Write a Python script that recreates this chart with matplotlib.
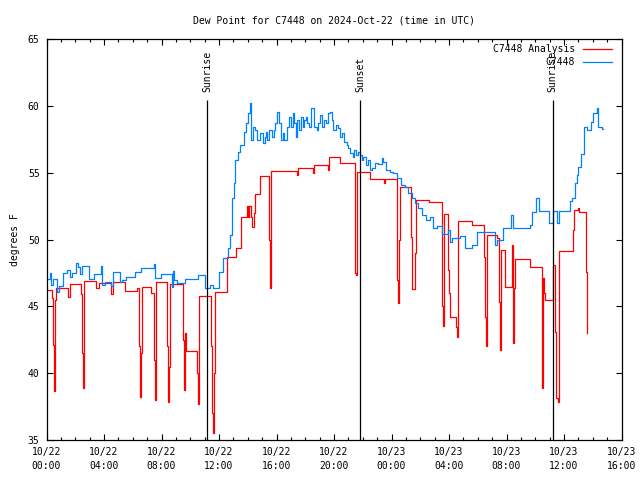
import matplotlib
matplotlib.use('Agg')
import matplotlib.pyplot as plt

# hours after 2024-10-22 00:00 UTC, dew point in F
ana_hours = [0.00, 0.36, 0.45, 0.50, 0.56, 0.62, 0.68, 1.52, 1.64, 2.38, 2.47, 2.52, 2.58, 2.64,
             3.44, 3.67, 4.47, 4.62, 5.46, 6.30, 6.46, 6.52, 6.60, 6.64, 7.27, 7.50, 7.55, 7.62,
             8.38, 8.42, 8.52, 8.58, 9.52, 9.56, 9.62, 9.70, 10.50, 10.54, 10.60, 11.42, 11.50,
             11.56, 11.62, 11.70, 12.58, 13.16, 13.55, 13.95, 14.05, 14.12, 14.22, 14.30, 14.45,
             14.52, 14.85, 15.50, 15.55, 15.62, 17.40, 17.50, 18.56, 18.62, 19.56, 19.64, 20.42,
             21.46, 21.52, 21.60, 22.50, 23.45, 23.52, 24.40, 24.46, 24.55, 24.62, 25.34, 25.40,
             25.62, 25.70, 26.63, 27.49, 27.56, 27.65, 27.95, 28.00, 28.07, 28.49, 28.56, 28.60,
             28.65, 29.58, 30.43, 30.50, 30.55, 30.62, 31.32, 31.45, 31.52, 31.60, 31.88, 32.36,
             32.44, 32.48, 32.54, 32.60, 33.63, 34.45, 34.50, 34.55, 34.62, 34.70, 35.20, 35.26,
             35.37, 35.42, 35.55, 35.62, 35.67, 36.65, 36.72, 36.95, 37.02, 37.53, 37.58, 37.62]
ana_temp = [46.2, 45.6, 42.1, 38.7, 42.5, 45.5, 46.35, 45.7, 46.67, 45.9, 41.5, 38.9, 41.8, 46.88,
            46.35, 46.72, 45.9, 46.85, 46.15, 46.4, 42.0, 38.25, 41.5, 46.47, 46.0, 41.0, 38.0, 46.85,
            42.0, 37.87, 40.5, 46.7, 42.5, 38.75, 43.0, 41.66, 40.0, 37.68, 45.78, 42.0, 37.0,
            35.5, 40.0, 46.05, 48.67, 49.34, 51.66, 52.5, 51.7, 52.5, 51.66, 50.9, 52.0,
            53.4, 54.75, 50.0, 46.35, 55.15, 54.8, 55.38, 55.0, 55.55, 55.2, 56.15, 55.7,
            47.5, 47.35, 55.03, 54.5, 54.2, 54.5, 47.0, 45.28, 50.0, 53.9, 50.2, 46.28,
            49.0, 52.96, 52.78, 45.0, 43.55, 51.9, 47.7, 46.0, 44.23, 43.48, 42.7, 47.1,
            51.4, 51.07, 48.72, 44.23, 42.0, 50.32, 50.1, 45.35, 41.74, 49.2, 46.43, 49.6,
            44.98, 42.24, 46.35, 48.52, 47.92, 43.48, 38.87, 47.1, 46.0, 45.48, 46.73, 48.1,
            43.1, 38.13, 37.87, 43.0, 49.14, 50.7, 52.2, 52.35, 52.08, 47.6, 43.03, 43.03]

obs_hours = [0.00, 0.24, 0.31, 0.43, 0.70, 0.84, 1.17, 1.45, 1.60, 1.78, 2.05, 2.21, 2.35, 2.50,
             2.98, 3.30, 3.76, 3.84, 4.10, 4.47, 4.65, 5.11, 5.23, 5.53, 6.16, 6.55, 7.48, 7.58,
             7.94, 8.71, 8.82, 8.90, 9.05, 9.63, 10.56, 11.03, 11.37, 11.60, 12.02, 12.30, 12.60,
             12.77, 12.88, 13.07, 13.11, 13.30, 13.46, 13.74, 13.88, 14.02, 14.16, 14.25, 14.34,
             14.48, 14.67, 14.85, 15.04, 15.18, 15.27, 15.36, 15.50, 15.67, 15.83, 15.92, 16.06,
             16.17, 16.31, 16.43, 16.52, 16.71, 16.89, 16.99, 17.13, 17.22, 17.36, 17.45, 17.59,
             17.68, 17.82, 17.91, 18.05, 18.14, 18.28, 18.42, 18.61, 18.80, 18.91, 19.03, 19.14,
             19.30, 19.44, 19.60, 19.72, 19.84, 19.95, 20.14, 20.30, 20.42, 20.53, 20.70, 20.88,
             21.00, 21.11, 21.30, 21.39, 21.53, 21.69, 21.81, 21.93, 22.04, 22.20, 22.39, 22.50,
             22.67, 22.85, 23.08, 23.32, 23.43, 23.60, 23.90, 24.13, 24.36, 24.64, 24.94, 25.17,
             25.40, 25.63, 25.87, 26.10, 26.43, 26.70, 26.91, 27.14, 27.49, 27.95, 28.07, 28.19,
             28.76, 29.11, 29.58, 29.93, 31.20, 31.32, 31.74, 32.30, 32.47, 33.60, 33.80, 34.05,
             34.25, 34.33, 34.96, 35.26, 35.50, 35.66, 36.40, 36.55, 36.77, 36.90, 37.00, 37.16,
             37.41, 37.58, 37.86, 38.04, 38.27, 38.39, 38.62, 38.73]
obs_temp = [47.03, 47.48, 46.6, 47.03, 46.1, 46.5, 47.5, 47.72, 47.2, 47.5, 48.27, 47.97, 47.4, 48.0,
            47.03, 47.42, 48.0, 46.6, 46.8, 46.5, 47.6, 46.8, 46.95, 47.2, 47.55, 47.85, 48.17, 47.1,
            47.42, 46.47, 47.65, 47.0, 46.73, 47.03, 47.35, 46.35, 46.6, 46.35, 47.55, 48.6, 49.35,
            50.35, 53.08, 54.2, 55.95, 56.57, 57.07, 58.07, 58.7, 59.44, 60.19, 57.45, 58.44,
            58.19, 57.45, 57.95, 57.2, 57.7, 58.07, 57.45, 58.2, 57.7, 58.2, 58.7, 59.56,
            58.7, 57.45, 57.95, 57.45, 58.44, 59.19, 58.44, 59.44, 58.7, 57.7, 58.94, 58.2,
            59.19, 58.44, 58.94, 59.19, 58.7, 58.44, 59.82, 58.44, 58.2, 58.7, 59.3, 58.44,
            58.94, 58.7, 59.44, 59.56, 58.94, 58.2, 58.57, 58.32, 57.7, 57.95, 57.32, 57.07,
            56.82, 56.45, 56.2, 56.7, 56.32, 56.57, 56.32, 55.95, 56.2, 55.58, 55.95, 55.2,
            55.33, 55.7, 55.65, 56.08, 55.83, 55.2, 55.08, 54.95, 54.58, 54.08, 53.95, 53.46,
            53.08, 52.71, 52.34, 51.85, 51.46, 51.7, 50.84, 51.0, 50.42, 50.72, 49.85, 50.1,
            50.28, 49.34, 49.6, 50.59, 49.6, 49.97, 50.84, 51.84, 50.84, 51.09, 52.09, 53.08,
            52.1, 52.14, 51.21, 52.14, 51.21, 52.14, 52.9, 53.08, 54.2, 54.8, 55.45, 56.38,
            58.4, 58.2, 58.82, 59.44, 59.86, 58.44, 58.24, 58.24]

sun_hours = [11.19, 21.83, 35.21]
sun_labels = ['Sunrise', 'Sunset', 'Sunrise']

tick_hours = list(range(0, 41, 4))
tick_labels = ['10/22\n00:00', '10/22\n04:00', '10/22\n08:00', '10/22\n12:00', '10/22\n16:00',
               '10/22\n20:00', '10/23\n00:00', '10/23\n04:00', '10/23\n08:00', '10/23\n12:00',
               '10/23\n16:00']

plt.rcParams['font.family'] = 'DejaVu Sans Mono'
plt.rcParams['font.size'] = 7

fig = plt.figure(figsize=(6.4, 4.8), dpi=100)
ax = fig.add_axes([0.0727, 0.0833, 0.8984, 0.8354])

ax.plot(ana_hours, ana_temp, color='#ff0000', lw=0.9, drawstyle='steps-post', label='C7448 Analysis')
ax.plot(obs_hours, obs_temp, color='#0080ff', lw=0.9, drawstyle='steps-post', label='C7448')

for h, lab in zip(sun_hours, sun_labels):
    ax.vlines(h, 35, 60.45, color='black', lw=0.9)
    ax.text(h, 61.0, lab, rotation=90, ha='center', va='bottom')

ax.set_xlim(0, 40)
ax.set_ylim(35, 65)
ax.set_xticks(tick_hours)
ax.set_xticklabels(tick_labels, linespacing=1.5)
ax.set_xticks(range(0, 41), minor=True)
ax.set_yticks(range(35, 66, 5))
ax.tick_params(which='both', direction='in', top=True, right=True, width=0.8)
ax.tick_params(which='major', length=4.5, pad=5)
ax.tick_params(which='minor', length=2.5)
for s in ax.spines.values():
    s.set_linewidth(0.9)

ax.set_title('Dew Point for C7448 on 2024-Oct-22 (time in UTC)', fontsize=7, pad=11)
ax.set_ylabel('degrees F', labelpad=6)
ax.legend(loc='upper right', bbox_to_anchor=(0.9835, 0.987), frameon=False, markerfirst=False,
          handlelength=3.0, handletextpad=0.8, labelspacing=0.3, borderpad=0, borderaxespad=0)

fig.savefig('out.png', dpi=100)
